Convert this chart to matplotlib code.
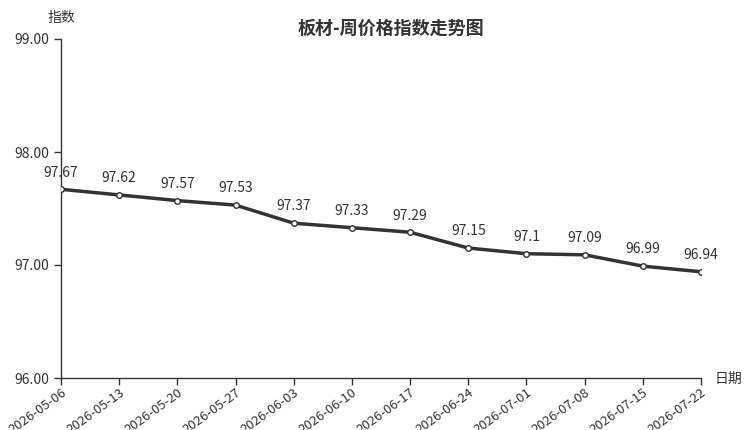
import matplotlib
matplotlib.use('Agg')
import matplotlib.pyplot as plt

plt.rcParams['font.family'] = ['Noto Sans CJK SC', 'DejaVu Sans']

dates = ['2026-05-06', '2026-05-13', '2026-05-20', '2026-05-27', '2026-06-03',
         '2026-06-10', '2026-06-17', '2026-06-24', '2026-07-01', '2026-07-08',
         '2026-07-15', '2026-07-22']
values = [97.67, 97.62, 97.57, 97.53, 97.37, 97.33, 97.29, 97.15, 97.1, 97.09, 96.99, 96.94]
yticks = [96.00, 97.00, 98.00, 99.00]

fig = plt.figure(figsize=(7.5, 4.3), dpi=100)
ax = fig.add_axes([61/750, 1 - 378/430, 640/750, 339/430])

x = list(range(len(dates)))
ax.plot(x, values, color='#333333', linewidth=2.5, marker='o', markersize=4,
        markerfacecolor='white', markeredgecolor='#333333', markeredgewidth=1, zorder=3)

for xi, v in zip(x, values):
    ax.annotate(f'{v:g}', (xi, v), xytext=(0, 7), textcoords='offset points',
                ha='center', va='bottom', fontsize=10, color='#333333')

ax.set_xlim(0, len(dates) - 1)
ax.set_ylim(96, 99)
ax.set_yticks(yticks)
ax.set_yticklabels([f'{t:.2f}' for t in yticks])
ax.set_xticks(x)
ax.set_xticklabels(dates, rotation=36, ha='right', rotation_mode='anchor')

ax.tick_params(axis='both', colors='#333333', labelsize=10, length=5, width=1)
ax.tick_params(axis='x', pad=1, labelsize=9.5)
for s in ['top', 'right']:
    ax.spines[s].set_visible(False)
for s in ['left', 'bottom']:
    ax.spines[s].set_color('#333333')
    ax.spines[s].set_linewidth(1)

fig.text(61/750, 1 - 18/430, '指数', ha='center', va='center', fontsize=10, color='#333333')
fig.text(728/750, 1 - 379/430, '日期', ha='center', va='center', fontsize=10, color='#333333')
fig.text(391/750, 1 - 28/430, '板材-周价格指数走势图', ha='center', va='center',
         fontsize=13, fontweight='bold', color='#333333')

fig.savefig('out.png', dpi=100)
